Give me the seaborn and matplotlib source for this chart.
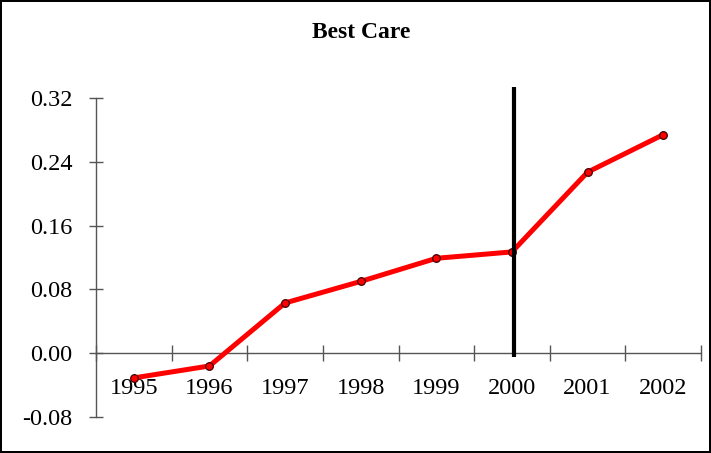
import matplotlib
matplotlib.use("Agg")
import matplotlib.pyplot as plt
import seaborn as sns
import pandas as pd

years = ["1995", "1996", "1997", "1998", "1999", "2000", "2001", "2002"]
values = [-0.031, -0.016, 0.063, 0.090, 0.119, 0.127, 0.227, 0.274]
y_ticks = [-0.08, 0.00, 0.08, 0.16, 0.24, 0.32]
marker_year = "2000"
title = "Best Care"

sns.set_style("white")
plt.rcParams["font.family"] = ["Liberation Serif", "DejaVu Serif"]
plt.rcParams["text.color"] = "black"
plt.rcParams["xtick.labelcolor"] = "black"
plt.rcParams["ytick.labelcolor"] = "black"

df = pd.DataFrame({"pos": range(len(years)), "year": years, "value": values})

fig = plt.figure(figsize=(7.11, 4.53), dpi=100, edgecolor="black", linewidth=1.5)
ax = fig.add_axes([96 / 711, 1 - 417 / 453, (701 - 96) / 711, (417 - 98) / 453])

sns.lineplot(data=df, x="pos", y="value", ax=ax, color="#ff0000", linewidth=3.6,
             marker="o", markersize=5.5, markerfacecolor="#ff0000",
             markeredgecolor="#400000", markeredgewidth=0.9, zorder=3)

xi = years.index(marker_year)
ax.plot([xi + 0.03, xi + 0.03], [-0.005, 0.334], color="black", linewidth=3,
        clip_on=False, zorder=4, solid_capstyle="butt")

ax.set_xlim(-0.5, len(years) - 0.5)
ax.set_ylim(y_ticks[0], y_ticks[-1])
ax.set_yticks(y_ticks)
ax.set_yticklabels([f"{t:.2f}" for t in y_ticks])
ax.set_xticks(range(len(years)))
ax.set_xticklabels(years)
ax.set_xticks([i - 0.5 for i in range(len(years) + 1)], minor=True)

for s in ["top", "right"]:
    ax.spines[s].set_visible(False)
ax.spines["bottom"].set_position(("data", 0))
for s in ["left", "bottom"]:
    ax.spines[s].set_color("#555555")
    ax.spines[s].set_linewidth(1.0)

ax.tick_params(axis="y", which="major", direction="inout", length=10, width=1.0,
               color="#555555", labelsize=17.5, pad=12, left=True, labelcolor="black")
ax.tick_params(axis="x", which="major", length=0, labelsize=17.5, pad=18, bottom=True,
               labelcolor="black")
ax.tick_params(axis="x", which="minor", direction="inout", length=11, width=1.0,
               color="#555555", bottom=True)

ax.set_xlabel("")
ax.set_ylabel("")
fig.text(0.508, 1 - 33 / 453, title, ha="center", va="center",
         fontsize=17, fontweight="bold", color="black")

fig.savefig("out.png", dpi=100, edgecolor=fig.get_edgecolor())
